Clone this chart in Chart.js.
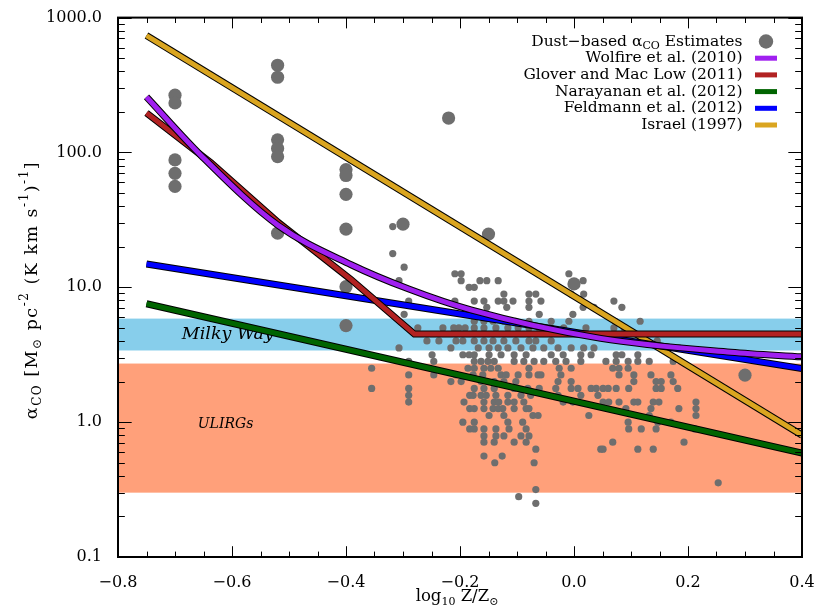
<!DOCTYPE html>
<html>
<head>
<meta charset="utf-8">
<script src="https://cdn.jsdelivr.net/npm/chart.js@4.4.1/dist/chart.umd.min.js"></script>
<style>
  html, body { margin: 0; padding: 0; background: #fff; }
  #wrap { width: 825px; height: 609px; }
</style>
</head>
<body>
<div id="wrap"><canvas id="c" width="825" height="609"></canvas></div>
<script>
// alpha_CO vs metallicity: dust-based estimates against model predictions.
const FONT = "'DejaVu Serif', 'Liberation Serif', serif";
const DOT = "#6e6e6e";

// Axis ranges and tick labels
const zRange = [-0.8, 0.4];
const alphaRange = [0.1, 1000];
const alphaTicks = [0.1, 1, 10, 100, 1000];

// Reference bands (alpha_CO limits)
const milkyWayBand = [3.4, 5.86];
const ulirgBand = [0.30, 2.72];

// Dust-based estimates: whole galaxies (large symbols)
const largeZ = [-0.70, -0.70, -0.70, -0.70, -0.70,
  -0.52, -0.52, -0.52, -0.52, -0.52, -0.52,
  -0.40, -0.40, -0.40, -0.40, -0.40, -0.40,
  -0.30, -0.22, -0.15, 0.00, 0.30];
const largeAlpha = [266, 233, 88, 70, 56,
  443, 361, 124, 107, 93, 25.2,
  74.6, 67.5, 48.9, 27.0, 10.1, 5.2,
  29.4, 180, 24.8, 10.6, 2.23];

// Dust-based estimates: individual regions (small symbols), one line per alpha value
const smallZ = [
  -0.318,
  -0.318,
  -0.298,
  -0.209, -0.198, -0.009,
  -0.307, -0.198, -0.165, -0.153, -0.133, 0.016,
  -0.184, -0.175,
  -0.123, -0.079, -0.067, -0.005, 0.017,
  -0.29, -0.209, -0.175, -0.158, -0.133, -0.123, -0.107, -0.079, -0.058, 0.07,
  -0.153, -0.118, -0.079, 0.016, 0.035, 0.084,
  -0.298, -0.061, -0.002,
  -0.175, -0.158, -0.142, -0.123, -0.102, -0.079, -0.04, -0.009, 0.072, 0.116,
  -0.274, -0.23, -0.211, -0.202, -0.191, -0.175, -0.158, -0.137, -0.116, -0.098, -0.079, -0.061, -0.04, -0.018, 0.021, 0.07, 0.088,
  -0.258, -0.237, -0.207, -0.195, -0.175, -0.158, -0.142, -0.123, -0.102, -0.079, -0.067, -0.04, 0.146,
  -0.307, -0.216, -0.168, -0.149, -0.133, -0.116, -0.093, -0.072, -0.053, -0.028, -0.005, 0.017, 0.035, 0.184,
  -0.249, -0.195, -0.184, -0.175, -0.149, -0.128, -0.105, -0.084, -0.04, -0.019, 0.012, 0.03, 0.074, 0.084, 0.112,
  -0.29, -0.246, -0.175, -0.163, -0.151, -0.14, -0.105, -0.088, -0.07, -0.053, -0.032, -0.014, 0.012, 0.056, 0.074, 0.095, 0.112, 0.132, 0.174,
  -0.355, -0.186, -0.175, -0.158, -0.146, -0.133, -0.079, -0.026, -0.005, 0.068, 0.079, 0.095,
  -0.29, -0.246, -0.207, -0.177, -0.16, -0.128, -0.119, -0.098, -0.079, -0.063, -0.058, -0.023, 0.079, 0.105, 0.135, 0.17,
  -0.216, -0.198, -0.163, -0.14, -0.123, -0.102, -0.028, -0.005, 0.105, 0.144, 0.153, 0.174,
  -0.355, -0.29, -0.175, -0.158, -0.14, -0.105, -0.081, -0.061, -0.032, -0.005, 0.007, 0.03, 0.039, 0.051, 0.06, 0.074, 0.096, 0.144, 0.153, 0.182,
  -0.29, -0.183, -0.177, -0.163, -0.154, -0.137, -0.116, -0.093, -0.076, -0.028, 0.012, 0.042,
  -0.29, -0.193, -0.158, -0.14, -0.132, -0.116, -0.105, -0.088, -0.019, -0.002, 0.051, 0.061, 0.079, 0.105, 0.112, 0.139, 0.149, 0.214,
  -0.183, -0.175, -0.158, -0.142, -0.133, -0.125, -0.105, -0.084, -0.079, 0.091, 0.135, 0.184, 0.214,
  -0.149, -0.123, -0.072, -0.063, 0.026, 0.132, 0.214,
  -0.195, -0.175, -0.116, -0.09, 0.095, 0.147, 0.17,
  -0.183, -0.175, -0.158, -0.137, -0.114, -0.084, 0.096, 0.118, 0.144, 0.212,
  -0.158, -0.137, -0.123, -0.093, -0.079,
  -0.158, -0.14, -0.105, -0.084, 0.068, 0.193,
  -0.067, 0.047, 0.051, 0.112, 0.139,
  -0.158, -0.126,
  -0.139, -0.07,
  0.253,
  -0.067,
  -0.097,
  -0.067
];
const smallAlpha = [
  28.2,
  17.8,
  14.1,
  12.6, 12.6, 12.6,
  11.2, 11.2, 11.2, 11.2, 11.2, 11.2,
  10.0, 10.0,
  8.9, 8.9, 8.9, 8.9, 8.9,
  7.9, 7.9, 7.9, 7.9, 7.9, 7.9, 7.9, 7.9, 7.9, 7.9,
  7.1, 7.1, 7.1, 7.1, 7.1, 7.1,
  6.3, 6.3, 6.3,
  5.6, 5.6, 5.6, 5.6, 5.6, 5.6, 5.6, 5.6, 5.6, 5.6,
  5.0, 5.0, 5.0, 5.0, 5.0, 5.0, 5.0, 5.0, 5.0, 5.0, 5.0, 5.0, 5.0, 5.0, 5.0, 5.0, 5.0,
  4.0, 4.0, 4.0, 4.0, 4.0, 4.0, 4.0, 4.0, 4.0, 4.0, 4.0, 4.0, 4.0,
  3.55, 3.55, 3.55, 3.55, 3.55, 3.55, 3.55, 3.55, 3.55, 3.55, 3.55, 3.55, 3.55, 3.55,
  3.16, 3.16, 3.16, 3.16, 3.16, 3.16, 3.16, 3.16, 3.16, 3.16, 3.16, 3.16, 3.16, 3.16, 3.16,
  2.82, 2.82, 2.82, 2.82, 2.82, 2.82, 2.82, 2.82, 2.82, 2.82, 2.82, 2.82, 2.82, 2.82, 2.82, 2.82, 2.82, 2.82, 2.82,
  2.51, 2.51, 2.51, 2.51, 2.51, 2.51, 2.51, 2.51, 2.51, 2.51, 2.51, 2.51,
  2.24, 2.24, 2.24, 2.24, 2.24, 2.24, 2.24, 2.24, 2.24, 2.24, 2.24, 2.24, 2.24, 2.24, 2.24, 2.24,
  2.0, 2.0, 2.0, 2.0, 2.0, 2.0, 2.0, 2.0, 2.0, 2.0, 2.0, 2.0,
  1.78, 1.78, 1.78, 1.78, 1.78, 1.78, 1.78, 1.78, 1.78, 1.78, 1.78, 1.78, 1.78, 1.78, 1.78, 1.78, 1.78, 1.78, 1.78, 1.78,
  1.58, 1.58, 1.58, 1.58, 1.58, 1.58, 1.58, 1.58, 1.58, 1.58, 1.58, 1.58,
  1.41, 1.41, 1.41, 1.41, 1.41, 1.41, 1.41, 1.41, 1.41, 1.41, 1.41, 1.41, 1.41, 1.41, 1.41, 1.41, 1.41, 1.41,
  1.26, 1.26, 1.26, 1.26, 1.26, 1.26, 1.26, 1.26, 1.26, 1.26, 1.26, 1.26, 1.26,
  1.12, 1.12, 1.12, 1.12, 1.12, 1.12, 1.12,
  1.0, 1.0, 1.0, 1.0, 1.0, 1.0, 1.0,
  0.89, 0.89, 0.89, 0.89, 0.89, 0.89, 0.89, 0.89, 0.89, 0.89,
  0.79, 0.79, 0.79, 0.79, 0.79,
  0.71, 0.71, 0.71, 0.71, 0.71, 0.71,
  0.63, 0.63, 0.63, 0.63, 0.63,
  0.56, 0.56,
  0.50, 0.50,
  0.355,
  0.316,
  0.28,
  0.25
];

// Model predictions
const wolfireZ = [-0.75, -0.654, -0.519, -0.391, -0.291, -0.181, 0.047, 0.275, 0.4];
const wolfireAlpha = [258, 94.6, 28.8, 14.7, 9.75, 6.8, 4.18, 3.3, 3.05];
const gloverZ = [-0.75, -0.637, -0.519, -0.391, -0.28, 0.4];
const gloverAlpha = [196, 84, 30.3, 11.4, 4.5, 4.5];
const narayananZ = [-0.75, -0.25, 0.4];
const narayananAlpha = [7.55, 2.49, 0.59];
const feldmannZ = [-0.75, -0.4, 0.4];
const feldmannAlpha = [14.9, 8.65, 2.5];
const israelZ = [-0.75, 0.4];
const israelAlpha = [736, 0.8];

const pts = (xs, ys) => xs.map((x, i) => ({ x, y: ys[i] }));

// colored line on top of a slightly wider black one, so every model gets a thin outline
function modelLine(label, xs, ys, color, order, curved) {
  const base = {
    data: pts(xs, ys),
    showLine: true,
    pointRadius: 0,
    pointHoverRadius: 0,
    borderJoinStyle: "miter",
    borderCapStyle: "butt",
    cubicInterpolationMode: curved ? "monotone" : "default",
    tension: 0,
  };
  return [
    { ...base, label, borderColor: color, borderWidth: 5, order },
    { ...base, label: label + " outline", borderColor: "#000", borderWidth: 7, order: order + 0.5 },
  ];
}

const legendRows = [
  { parts: [["Dust\u2212based \u03b1", "n"], ["CO", "sub"], [" Estimates", "n"]], dot: true },
  { parts: [["Wolfire et al. (2010)", "n"]], color: "#a020f0" },
  { parts: [["Glover and Mac Low (2011)", "n"]], color: "#b22222" },
  { parts: [["Narayanan et al. (2012)", "n"]], color: "#006400" },
  { parts: [["Feldmann et al. (2012)", "n"]], color: "#0000ff" },
  { parts: [["Israel (1997)", "n"]], color: "#daa520" },
];

// text with sub/superscripts; returns width if draw is false
function richText(ctx, parts, x, y, size, draw) {
  let w = 0;
  for (const [t, kind] of parts) {
    const s = kind === "n" ? size : Math.round(size * 0.68);
    ctx.font = `${s}px ${FONT}`;
    const dy = kind === "sub" ? size * 0.32 : kind === "sup" ? -size * 0.42 : 0;
    if (draw) ctx.fillText(t, x + w, y + dy);
    w += ctx.measureText(t).width;
  }
  return w;
}

const bandPlugin = {
  id: "bands",
  beforeDatasetsDraw(chart) {
    const { ctx, chartArea: a, scales: { x, y } } = chart;
    ctx.save();
    const band = (lim, color) => {
      const top = y.getPixelForValue(lim[1]);
      const bot = y.getPixelForValue(lim[0]);
      ctx.fillStyle = color;
      ctx.fillRect(a.left, top, a.right - a.left, bot - top);
    };
    band(milkyWayBand, "#87ceeb");
    band(ulirgBand, "#ffa07a");
    ctx.fillStyle = "#000";
    ctx.textBaseline = "middle";
    ctx.font = `italic 17.5px ${FONT}`;
    ctx.fillText("Milky Way", x.getPixelForValue(-0.688), y.getPixelForValue(4.45));
    ctx.font = `italic 14px ${FONT}`;
    ctx.fillText("ULIRGs", x.getPixelForValue(-0.66), y.getPixelForValue(0.97));
    ctx.restore();
  },
};

const framePlugin = {
  id: "frame",
  afterDatasetsDraw(chart) {
    const { ctx, chartArea: a, scales: { x, y } } = chart;
    const w = a.right - a.left, h = a.bottom - a.top;
    ctx.save();
    ctx.strokeStyle = "#000";
    ctx.lineWidth = 1;
    ctx.beginPath();
    // x ticks every 0.05, labelled every 0.2
    for (let i = 0; i <= 24; i++) {
      const px = Math.round(x.getPixelForValue(zRange[0] + i * 0.05)) + 0.5;
      const len = (i % 4 === 0 ? 0.02 : 0.01) * h;
      ctx.moveTo(px, a.bottom); ctx.lineTo(px, a.bottom - len);
      ctx.moveTo(px, a.top); ctx.lineTo(px, a.top + len);
    }
    // log ticks on y
    for (let d = -1; d <= 3; d++) {
      for (let m = 1; m <= 9; m++) {
        const v = m * Math.pow(10, d);
        if (v > alphaRange[1] * 1.0001) break;
        const py = Math.round(y.getPixelForValue(v)) + 0.5;
        const len = (m === 1 ? 0.02 : 0.01) * w;
        ctx.moveTo(a.left, py); ctx.lineTo(a.left + len, py);
        ctx.moveTo(a.right, py); ctx.lineTo(a.right - len, py);
      }
    }
    ctx.stroke();
    ctx.lineWidth = 2;
    ctx.strokeRect(a.left, a.top, w, h);
    ctx.restore();
  },
  afterDraw(chart) {
    const { ctx } = chart;
    ctx.save();
    ctx.fillStyle = "#000";
    ctx.textBaseline = "middle";

    // legend, right-aligned text with markers
    const textRight = 742.5;
    legendRows.forEach((row, i) => {
      const cy = 41.5 + i * 16.7;
      const tw = richText(ctx, row.parts, 0, 0, 15.5, false);
      ctx.fillStyle = "#000";
      richText(ctx, row.parts, textRight - tw, cy, 15.5, true);
      if (row.dot) {
        ctx.fillStyle = DOT;
        ctx.beginPath();
        ctx.arc(766, cy, 7.2, 0, Math.PI * 2);
        ctx.fill();
      } else {
        ctx.fillStyle = row.color;
        ctx.fillRect(755, cy - 2.5, 22, 5);
      }
    });

    // axis titles
    ctx.fillStyle = "#000";
    const xParts = [["log", "n"], ["10", "sub"], [" Z/Z", "n"], ["\u2299", "sub"]];
    const xw = richText(ctx, xParts, 0, 0, 16.5, false);
    richText(ctx, xParts, 457 - xw / 2, 597, 16.5, true);

    const yParts = [["\u03b1", "n"], ["CO", "sub"], [" [M", "n"], ["\u2299", "sub"], [" pc", "n"], ["-2", "sup"],
      [" (K km s", "n"], ["-1", "sup"], [")", "n"], ["-1", "sup"], ["]", "n"]];
    ctx.letterSpacing = "1.5px";
    const yw = richText(ctx, yParts, 0, 0, 17.5, false);
    ctx.translate(32, 290);
    ctx.rotate(-Math.PI / 2);
    richText(ctx, yParts, -yw / 2, 0, 17.5, true);
    ctx.restore();
  },
};

const datasets = [
  ...modelLine("Wolfire et al. (2010)", wolfireZ, wolfireAlpha, "#a020f0", 2, true),
  ...modelLine("Glover and Mac Low (2011)", gloverZ, gloverAlpha, "#b22222", 4, false),
  ...modelLine("Narayanan et al. (2012)", narayananZ, narayananAlpha, "#006400", 6, false),
  ...modelLine("Feldmann et al. (2012)", feldmannZ, feldmannAlpha, "#0000ff", 8, false),
  ...modelLine("Israel (1997)", israelZ, israelAlpha, "#daa520", 10, false),
  {
    label: "Dust-based (galaxies)",
    data: pts(largeZ, largeAlpha),
    pointRadius: 6.6, pointHoverRadius: 6.6, pointBorderWidth: 0,
    backgroundColor: DOT, order: 20,
  },
  {
    label: "Dust-based (regions)",
    data: pts(smallZ, smallAlpha),
    pointRadius: 3.6, pointHoverRadius: 3.6, pointBorderWidth: 0,
    backgroundColor: DOT, order: 21,
  },
];

const fmtZ = (v) => {
  if (Math.abs(v) < 1e-9) return "0.0";
  return (v < 0 ? "\u2212" : "") + Math.abs(v).toFixed(1);
};

new Chart(document.getElementById("c"), {
  type: "scatter",
  data: { datasets },
  options: {
    responsive: false,
    animation: false,
    events: [],
    layout: { padding: { top: 13, right: 23, bottom: 0, left: 0 } },
    plugins: { legend: { display: false }, tooltip: { enabled: false } },
    scales: {
      x: {
        type: "linear",
        min: zRange[0],
        max: zRange[1],
        grid: { display: false },
        border: { display: false },
        ticks: {
          stepSize: 0.2,
          autoSkip: false,
          maxRotation: 0,
          padding: 8,
          color: "#000",
          font: { family: FONT, size: 16 },
          callback: (v) => fmtZ(v),
        },
        afterFit: (s) => { s.height = 52; },
      },
      y: {
        type: "logarithmic",
        min: alphaRange[0],
        max: alphaRange[1],
        grid: { display: false },
        border: { display: false },
        ticks: {
          padding: 8,
          color: "#000",
          font: { family: FONT, size: 16 },
          callback: (v) => Number(v).toFixed(1),
        },
        afterBuildTicks: (s) => { s.ticks = alphaTicks.map((value) => ({ value })); },
        afterFit: (s) => { s.width = 118; },
      },
    },
  },
  plugins: [bandPlugin, framePlugin],
});
</script>
</body>
</html>
